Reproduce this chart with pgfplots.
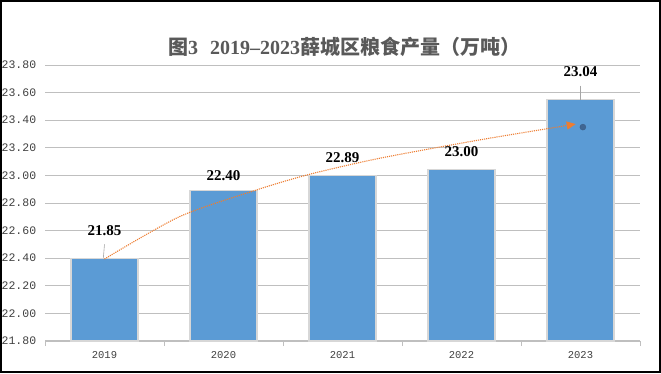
\documentclass[border=0pt]{standalone}
\usepackage{fontspec}
\usepackage{pgfplots}
\pgfplotsset{compat=1.18}
\usetikzlibrary{arrows.meta}
\setmainfont{Liberation Serif}
\setmonofont{Liberation Mono}
\newfontfamily\cjk{Noto Sans CJK SC}
\definecolor{barblue}{RGB}{91,155,213}
\definecolor{barshadow}{RGB}{215,215,215}
\definecolor{trendorange}{RGB}{237,125,49}
\definecolor{gridgray}{RGB}{191,191,191}
\definecolor{ticktext}{RGB}{64,64,64}
\definecolor{titlegray}{RGB}{89,89,89}
\begin{document}
\begin{tikzpicture}
\useasboundingbox (0,0) rectangle (661pt,373pt);
\begin{axis}[
  scale only axis,
  width=595pt, height=276pt,
  at={(45pt,32pt)}, anchor=south west,
  xmin=-0.5, xmax=4.5,
  ymin=21.8, ymax=23.8,
  ytick={21.8,22.0,...,23.81},
  xtick={0,1,2,3,4},
  xticklabels={2019,2020,2021,2022,2023},
  minor xtick={-0.5,0.5,1.5,2.5,3.5,4.5},
  major x tick style={draw=none},
  minor x tick style={draw=gridgray, line width=1pt},
  minor tick length=5pt,
  tick align=outside,
  major y tick style={draw=none},
  ymajorgrids,
  grid style={draw=gridgray, line width=0.8pt},
  axis x line*=bottom,
  axis y line*=left,
  x axis line style={draw=gridgray, line width=1.5pt, -},
  y axis line style={draw=none},
  /pgf/number format/assume math mode=true,
  yticklabel={\pgfmathprintnumber[fixed,fixed zerofill,precision=2]{\tick}},
  yticklabel style={font=\ttfamily\fontsize{11.5}{11.5}\selectfont, text=ticktext, xshift=-1pt},
  xticklabel style={font=\ttfamily\fontsize{10.5}{10.5}\selectfont, text=ticktext, yshift=-3pt},
  clip=false,
]
\addplot[ybar, bar width=67pt, fill=barblue, draw=barshadow, line width=1.2pt]
  coordinates {(0,22.40) (1,22.89) (2,23.00) (3,23.04) (4,23.55)};
\addplot[smooth, tension=0.45, densely dotted, trendorange, line width=1.1pt,
  -{Triangle[length=9pt,width=8pt]}]
  coordinates {(0,22.394) (0.63,22.701) (1.275,22.894) (1.723,23.008)
  (2.311,23.124) (3.151,23.257) (3.96,23.372)};
\addplot[only marks, mark=*, mark size=3pt, color={rgb,255:red,55;green,85;blue,125}, opacity=0.75]
  coordinates {(4.02,23.35)};
\draw[gray!70, line width=0.6pt] (axis cs:0,22.50) -- (axis cs:-0.01,22.40);
\draw[gray!70, line width=0.6pt] (axis cs:4,23.65) -- (axis cs:4,23.55);
\node[font=\bfseries\fontsize{15}{15}\selectfont] at (axis cs:0,22.60) {21.85};
\node[font=\bfseries\fontsize{15}{15}\selectfont] at (axis cs:1,23.00) {22.40};
\node[font=\bfseries\fontsize{15}{15}\selectfont] at (axis cs:2,23.13) {22.89};
\node[font=\bfseries\fontsize{15}{15}\selectfont] at (axis cs:3,23.17) {23.00};
\node[font=\bfseries\fontsize{15}{15}\selectfont] at (axis cs:4,23.75) {23.04};
\end{axis}
\node[text=titlegray, font=\bfseries\fontsize{20}{20}\selectfont] at (344pt,326pt)
  {{\cjk 图}3\hspace{0.6em}2019–2023{\cjk 薛城区粮食产量（万吨）}};
\draw[black, line width=2pt] (1pt,1pt) rectangle (660pt,372pt);
\end{tikzpicture}
\end{document}
